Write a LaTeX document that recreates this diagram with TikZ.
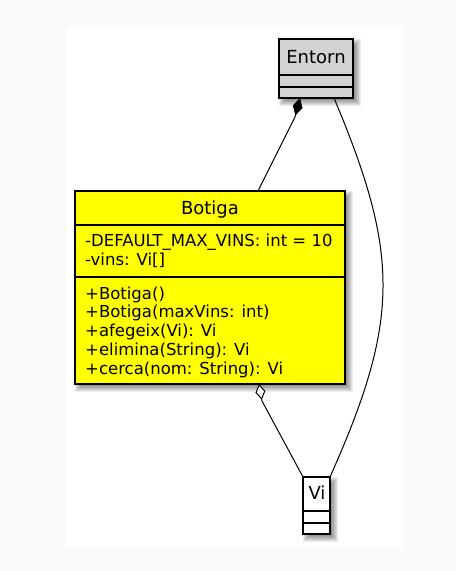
\documentclass[tikz,border=0pt]{standalone}
\usepackage{fontspec}
\setmainfont{DejaVu Sans}
\usetikzlibrary{arrows.meta,calc}
\pgfdeclarelayer{bottom}
\pgfdeclarelayer{shade}
\pgfsetlayers{bottom,shade,main}
\definecolor{pageg}{HTML}{FAFAFA}
\definecolor{entg}{HTML}{D3D3D3}
\definecolor{uyellow}{HTML}{FFFF00}
\begin{document}
\begin{tikzpicture}[x=1pt,y=-1pt,
  classbox/.style={draw=black, line width=1.5pt, rectangle, inner sep=0pt, outer sep=0pt},
  sep/.style={draw=black, line width=1.5pt},
  title/.style={font=\fontsize{18}{18}\selectfont, inner sep=0pt, anchor=base},
  member/.style={font=\fontsize{16.5}{16.5}\selectfont, inner sep=0pt, anchor=base west},
  conn/.style={draw=black, line width=1pt},
  shadowfill/.style={fill=black, opacity=0.07},
]
\begin{pgfonlayer}{bottom}
\fill[pageg] (0,0) rectangle (456,571);
\fill[white] (66,27) rectangle (403,547);
\end{pgfonlayer}
\useasboundingbox (0,0) rectangle (456,571);

% class boxes
\node[classbox, fill=entg, minimum width=74pt, minimum height=59pt] (entorn) at (316,68.5) {};
\node[classbox, fill=uyellow, minimum width=270pt, minimum height=193pt] (botiga) at (210,287.5) {};
\node[classbox, fill=white, minimum width=27pt, minimum height=57pt] (vi) at (316.5,505.5) {};

% shadows
\begin{pgfonlayer}{shade}
\foreach \n in {entorn,botiga,vi}{
  \foreach \e in {-2,...,4}{
    \fill[shadowfill] ($(\n.north west)+(4-\e,4-\e)$) rectangle ($(\n.south east)+(4+\e,4+\e)$);
  }
}
\end{pgfonlayer}

% compartments
\draw[sep] (entorn.west |- 0,75) -- (entorn.east |- 0,75);
\draw[sep] (entorn.west |- 0,87) -- (entorn.east |- 0,87);
\draw[sep] (botiga.west |- 0,225) -- (botiga.east |- 0,225);
\draw[sep] (botiga.west |- 0,277) -- (botiga.east |- 0,277);
\draw[sep] (vi.west |- 0,511) -- (vi.east |- 0,511);
\draw[sep] (vi.west |- 0,523) -- (vi.east |- 0,523);

% texts
\node[title] (entornname) at (316,63.3) {Entorn};
\node[title] (botiganame) at (210,214.3) {Botiga};
\node[title] (viname) at (317,499) {Vi};

\node[member] (a1) at (85,246.7) {-DEFAULT\_MAX\_VINS: int = 10};
\node[member] (a2) at (85,265.5) {-vins: Vi[]};
\node[member] (m1) at (85,299) {+Botiga()};
\node[member] (m2) at (85,317.7) {+Botiga(maxVins: int)};
\node[member] (m3) at (85,336.5) {+afegeix(Vi): Vi};
\node[member] (m4) at (85,355.2) {+elimina(String): Vi};
\node[member] (m5) at (85,374) {+cerca(nom: String): Vi};

% connectors
\draw[conn, -{Diamond[length=18pt,width=10pt,fill=black]}]
  ($(botiga.north west)+(183,0)$) -- (295,117) -- ($(entorn.south west)+(21,0)$);
\draw[conn, -{Diamond[length=16pt,width=10pt,fill=white]}]
  (vi.north west) -- (262,401) -- ($(botiga.south west)+(184,0)$);
\draw[conn] ($(entorn.south west)+(55,0)$) .. controls (400,255) and (400,320) .. (vi.north east);
\end{tikzpicture}
\end{document}
